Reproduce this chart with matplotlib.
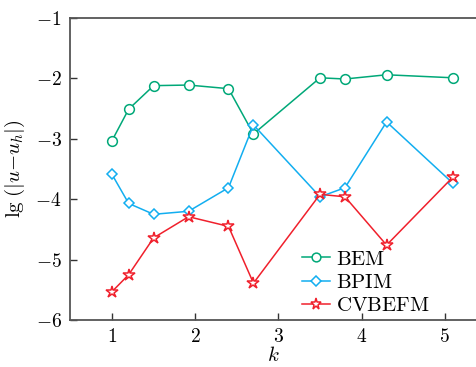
import numpy as np
import matplotlib
matplotlib.use('Agg')
import matplotlib.pyplot as plt

plt.rcParams['mathtext.fontset'] = 'cm'
plt.rcParams['font.family'] = 'serif'
plt.rcParams['font.serif'] = ['DejaVu Serif']

# values
k = [1.0, 1.2, 1.5, 1.92, 2.4, 2.7, 3.5, 3.8, 4.3, 5.1]
bem = [-3.03, -2.51, -2.12, -2.11, -2.17, -2.92, -1.99, -2.01, -1.94, -1.99]
bpim = [-3.59, -4.07, -4.25, -4.20, -3.81, -2.77, -3.96, -3.81, -2.72, -3.74]
cvbefm = [-5.53, -5.25, -4.64, -4.29, -4.45, -5.39, -3.92, -3.96, -4.76, -3.63]

xticks = [1, 2, 3, 4, 5]
yticks = [-6, -5, -4, -3, -2, -1]

green = '#00a878'
blue = '#12aef0'
red = '#f0202c'

fig = plt.figure(figsize=(4.76, 3.67), dpi=100)
ax = fig.add_axes([70/476, 47/367, 406/476, 302/367])

ax.plot(k, bem, color=green, lw=1.1, marker='o', ms=7, mfc='white',
        mec=green, mew=1.1, label=r'$\mathrm{BEM}$')
ax.plot(k, bpim, color=blue, lw=1.1, marker='D', ms=5.5, mfc='white',
        mec=blue, mew=1.1, label=r'$\mathrm{BPIM}$')
ax.plot(k, cvbefm, color=red, lw=1.1, marker='*', ms=9, mfc='white',
        mec=red, mew=1.1, label=r'$\mathrm{CVBEFM}$')

ax.set_xlim(0.495, 5.375)
ax.set_ylim(-6, -1)
ax.set_xticks(xticks)
ax.set_yticks(yticks)
ax.set_xticklabels([r'$%d$' % t for t in xticks], fontsize=14)
ax.set_yticklabels([r'$-%d$' % -t for t in yticks], fontsize=14)
ax.tick_params(direction='in', length=5, width=1.0, color='#333333', pad=6)

for s in ['left', 'bottom', 'top']:
    ax.spines[s].set_color('#555555')
    ax.spines[s].set_linewidth(1.3)
ax.spines['right'].set_visible(False)

ax.set_xlabel(r'$k$', fontsize=15, labelpad=0)
ax.set_ylabel(r'$\mathrm{lg}\;(|u{-}u_h|)$', fontsize=15, labelpad=6)

ax.legend(loc='lower left', bbox_to_anchor=(0.54, -0.025), frameon=False,
          fontsize=15, handlelength=1.35, handletextpad=0.3, labelspacing=0.2,
          borderaxespad=0.2, markerscale=0.9)

fig.savefig('out.png', dpi=100)
